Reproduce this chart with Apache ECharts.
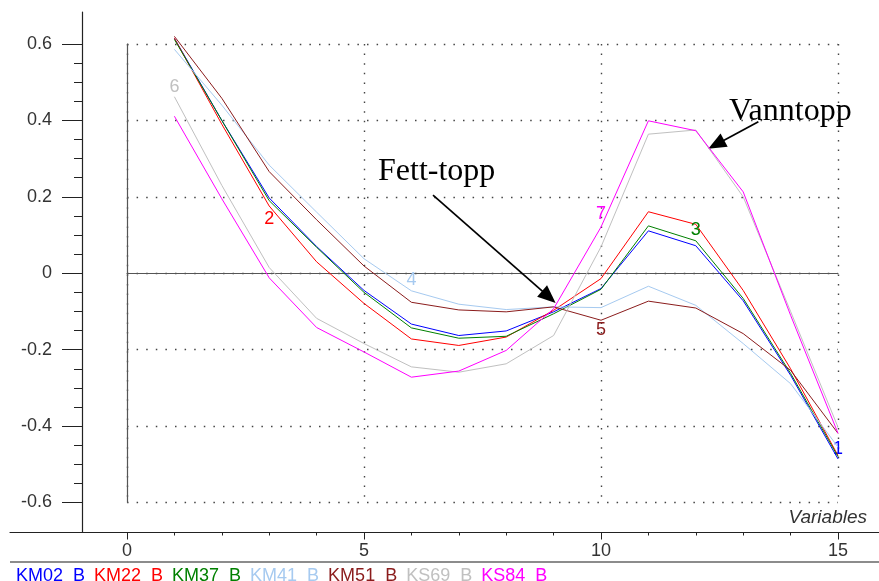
<!DOCTYPE html>
<html>
<head>
<meta charset="utf-8">
<script src="https://cdn.jsdelivr.net/npm/echarts@6/dist/echarts.min.js"></script>
<style>
html,body{margin:0;padding:0;background:#fff;}
#chart{width:879px;height:581px;}
</style>
</head>
<body>
<div id="chart"></div>
<script>
// ---- data ----
const xs = [1,2,3,4,5,6,7,8,9,10,11,12,13,14,15];
const seriesNames = ['KM02','KM22','KM37','KM41','KM51','KS69','KS84'];
const km02 = [0.615,0.400,0.197,0.070,-0.045,-0.133,-0.163,-0.151,-0.101,-0.040,0.111,0.072,-0.072,-0.267,-0.486];
const km22 = [0.615,0.390,0.176,0.030,-0.079,-0.172,-0.189,-0.167,-0.097,-0.014,0.161,0.128,-0.045,-0.250,-0.477];
const km37 = [0.612,0.400,0.190,0.068,-0.050,-0.143,-0.170,-0.165,-0.106,-0.042,0.124,0.085,-0.066,-0.262,-0.480];
const km41 = [0.586,0.440,0.283,0.160,0.038,-0.046,-0.081,-0.095,-0.088,-0.090,-0.034,-0.084,-0.184,-0.289,-0.455];
const km51 = [0.620,0.458,0.266,0.140,0.019,-0.076,-0.096,-0.101,-0.088,-0.123,-0.073,-0.091,-0.158,-0.254,-0.419];
const ks69 = [0.462,0.230,0.015,-0.118,-0.184,-0.245,-0.259,-0.237,-0.163,0.069,0.364,0.375,0.200,-0.100,-0.403];
const ks84 = [0.411,0.195,-0.012,-0.142,-0.206,-0.272,-0.256,-0.202,-0.093,0.121,0.399,0.373,0.213,-0.110,-0.419];
const seriesValues = [km02,km22,km37,km41,km51,ks69,ks84];
const lineTags = ['1','2','3','4','5','6','7'];
const lineTagAtX = [15,3,12,6,10,1,10];
const xMajorTicks = [0,5,10,15];
const xMinorTicks = [1,2,3,4,6,7,8,9,11,12,13,14];
const yMajorTicks = [-0.6,-0.4,-0.2,0,0.2,0.4,0.6];
const yMinorTicks = [-0.55,-0.5,-0.45,-0.35,-0.3,-0.25,-0.15,-0.1,-0.05,0.05,0.1,0.15,0.25,0.3,0.35,0.45,0.5,0.55];
const legendSuffix = '  B';
const xAxisTitle = 'Variables';
const annotations = ['Fett-topp','Vanntopp'];
const arrowFett = [[6.456,0.2045],[8.90,-0.062]];
const arrowVann = [[13.32,0.3966],[12.43,0.337]];

// ---- style ----
const colors = ['#0000ff','#ff0000','#008000','#a6caf0','#8b1c1c','#c0c0c0','#ff00ff'];
const tagPos = ['top','bottom','top','top','bottom','top','top'];
const tagDist = [1,4,2,2,1,1,4];
const SANS = '"Liberation Sans", Arial, sans-serif';
const SERIF = '"Liberation Serif", "Times New Roman", serif';
const dotted = {type:[1.5,8.1], color:'#444', width:1.4};
const outerXMin = -117/47.4, outerXMax = 15 + 41/47.4;
const outerYMin = -0.6 - 30/381.67, outerYMax = 0.6 + 32/381.67;

const chart = echarts.init(document.getElementById('chart'), null, {renderer:'canvas'});

const series = seriesNames.map((name, i) => ({
  name: name,
  type: 'line',
  xAxisIndex: 0,
  yAxisIndex: 0,
  clip: false,
  symbol: 'circle',
  symbolSize: 0,
  showSymbol: true,
  showAllSymbol: true,
  animation: false,
  silent: true,
  z: 3 + i,
  lineStyle: {width: 1, color: colors[i]},
  itemStyle: {color: colors[i]},
  data: xs.map((x, j) => {
    const item = {value: [x, seriesValues[i][j]]};
    if (x === lineTagAtX[i]) {
      item.label = {show: true, formatter: lineTags[i], position: tagPos[i], distance: tagDist[i],
        color: colors[i], fontSize: 18, fontFamily: SANS};
    }
    return item;
  })
}));

series[series.length - 1].markLine = {
  silent: true,
  animation: false,
  symbol: ['none','triangle'],
  symbolSize: [15, 18],
  label: {show: false},
  lineStyle: {color: '#000', width: 1.7, type: 'solid'},
  emphasis: {disabled: true},
  data: [
    [{coord: arrowFett[0]}, {coord: arrowFett[1]}],
    [{coord: arrowVann[0]}, {coord: arrowVann[1]}]
  ]
};

const option = {
  backgroundColor: '#fff',
  animation: false,
  grid: [
    {left: 127, top: 44, width: 711, height: 458.5},
    {left: 10, top: 12, right: 0, height: 520.5},
    {left: 82, top: 12, right: 0, height: 520.5}
  ],
  xAxis: [
    {gridIndex: 0, type: 'value', min: 0, max: 15, interval: 5, position: 'bottom',
      axisLine: {show: true, onZero: true, lineStyle: {color: '#555', width: 1.2}},
      axisTick: {show: false}, axisLabel: {show: false},
      splitLine: {show: true, lineStyle: dotted}},
    {gridIndex: 1, type: 'value', min: outerXMin, max: outerXMax, position: 'bottom',
      axisLine: {show: true, onZero: false, lineStyle: {color: '#222', width: 1.2}},
      axisTick: {show: true, length: 7, customValues: xMajorTicks, lineStyle: {color: '#222'}},
      axisLabel: {show: true, customValues: xMajorTicks, margin: 10, fontSize: 18, fontFamily: SANS, color: '#333'},
      splitLine: {show: false}},
    {gridIndex: 1, type: 'value', min: outerXMin, max: outerXMax, position: 'bottom',
      axisLine: {show: false},
      axisTick: {show: true, length: 3, customValues: xMinorTicks, lineStyle: {color: '#222'}},
      axisLabel: {show: false}, splitLine: {show: false}},
    {gridIndex: 2, type: 'value', show: false, min: 0, max: 1}
  ],
  yAxis: [
    {gridIndex: 0, type: 'value', min: -0.6, max: 0.6, interval: 0.2, position: 'left',
      axisLine: {show: true, onZero: false, lineStyle: {color: '#555', width: 1.2}},
      axisTick: {show: false}, axisLabel: {show: false},
      splitLine: {show: true, lineStyle: dotted}},
    {gridIndex: 1, type: 'value', show: false, min: 0, max: 1},
    {gridIndex: 2, type: 'value', min: outerYMin, max: outerYMax, position: 'left',
      axisLine: {show: true, onZero: false, lineStyle: {color: '#222', width: 1.2}},
      axisTick: {show: true, length: 20, customValues: yMajorTicks, lineStyle: {color: '#222'}},
      axisLabel: {show: true, customValues: yMajorTicks, margin: 30, fontSize: 18, fontFamily: SANS, color: '#333',
        formatter: v => (Math.abs(v) < 1e-9 ? '0' : (Math.round(v*10)/10).toFixed(1))},
      splitLine: {show: false}},
    {gridIndex: 2, type: 'value', min: outerYMin, max: outerYMax, position: 'left',
      axisLine: {show: false},
      axisTick: {show: true, length: 8, customValues: yMinorTicks, lineStyle: {color: '#222'}},
      axisLabel: {show: false}, splitLine: {show: false}}
  ],
  legend: {
    left: 6, top: 562, orient: 'horizontal',
    itemWidth: 0, itemHeight: 0, itemGap: 4, icon: 'none',
    selectedMode: false,
    formatter: n => n + legendSuffix,
    textStyle: {fontSize: 18, fontFamily: SANS},
    data: seriesNames.map((n, i) => ({name: n, textStyle: {color: colors[i]}}))
  },
  graphic: [
    {type: 'line', silent: true, shape: {x1: 10, y1: 562, x2: 879, y2: 562}, style: {stroke: '#666', lineWidth: 1.3}},
    {type: 'text', silent: true, x: 378, y: 172, style: {text: annotations[0], font: '32px ' + SERIF, fill: '#000', verticalAlign: 'middle'}},
    {type: 'text', silent: true, x: 729, y: 112, style: {text: annotations[1], font: '32px ' + SERIF, fill: '#000', verticalAlign: 'middle'}},
    {type: 'text', silent: true, x: 867, y: 518, style: {text: xAxisTitle, font: 'italic 19px ' + SANS, fill: '#333', align: 'right', verticalAlign: 'middle'}}
  ],
  series: series
};
chart.setOption(option);
</script>
</body>
</html>
